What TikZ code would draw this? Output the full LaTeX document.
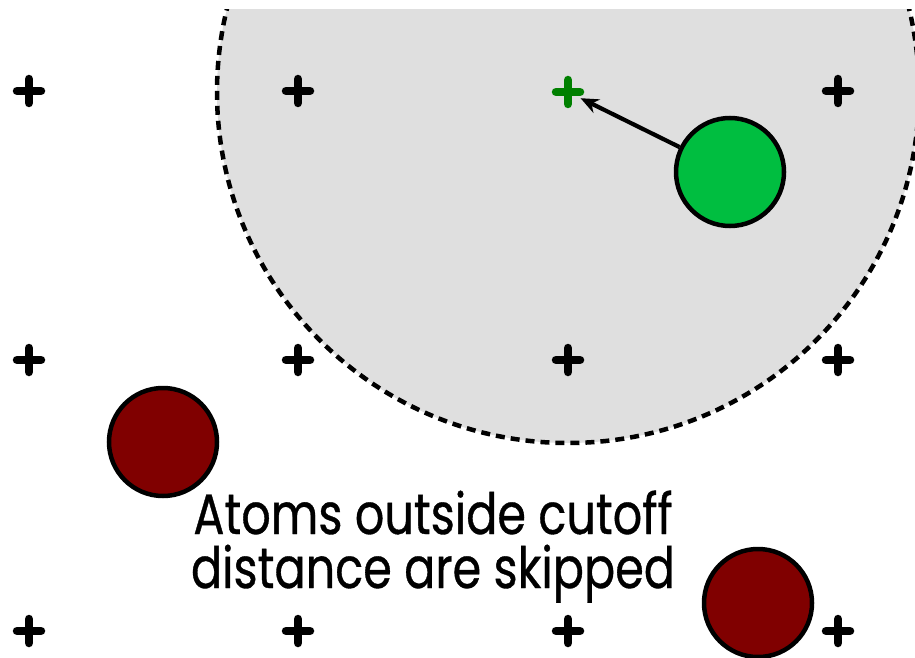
\documentclass[tikz,border=0pt]{standalone}
\usepackage{fontspec}
\setmainfont{Poppins}
\newfontfamily\labelfont[FakeStretch=0.81,FakeBold=0.6]{Poppins}
\usetikzlibrary{arrows.meta}
\definecolor{cutgray}{RGB}{223,223,223}
\definecolor{atomgreen}{RGB}{0,190,64}
\definecolor{plusgreen}{RGB}{0,128,0}
\definecolor{atomred}{RGB}{128,0,0}
\tikzset{
  gridplus/.style={line width=8.5pt,line cap=round},
  atom/.style={circle,draw=black,line width=4.5pt,minimum size=#1,inner sep=0pt},
  lbltext/.style={anchor=base,inner sep=0pt,font=\labelfont\fontsize{57}{57}\selectfont},
}
\newcommand{\gplus}[3]{\draw[gridplus,#3] (#1-12,#2) -- (#1+12,#2) (#1,#2-12) -- (#1,#2+12);}
\begin{document}
\begin{tikzpicture}[x=1pt,y=-1pt]
\useasboundingbox (0,0) rectangle (915,658);
\begin{scope}
\clip (0,10) rectangle (915,658);
\fill[cutgray] (568,92) circle (351);
\draw[line width=4.5pt,dash pattern=on 9pt off 6pt] (568,92) circle (351);
\end{scope}
% grid
\foreach \x in {29,298,568,838}{
  \foreach \y in {91,360,631}{
    \ifnum\x=568 \ifnum\y=91 \else \gplus{\x}{\y}{black} \fi \else \gplus{\x}{\y}{black} \fi
  }
}
\gplus{568}{92}{plusgreen}
\coordinate (gp) at (568,92);
\node[atom=108pt,fill=atomgreen] (ga) at (730,172) {};
\node[atom=108pt,fill=atomred] (ra) at (163,442) {};
\node[atom=108pt,fill=atomred] (rb) at (758,603) {};
\draw[line width=4.2pt,-{Stealth[length=18pt,width=15pt]},shorten >=14pt] (ga) -- (gp);
\node[lbltext] (lbl1) at (433,534) {Atoms outside cutoff};
\node[lbltext] (lbl2) at (433,588) {distance are skipped};
\end{tikzpicture}
\end{document}
